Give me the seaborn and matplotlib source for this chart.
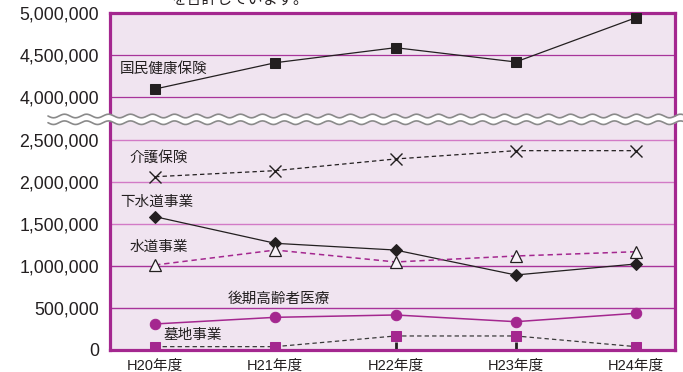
import numpy as np
import pandas as pd
import matplotlib
matplotlib.use("Agg")
import matplotlib.pyplot as plt
import seaborn as sns

years = ["H20年度", "H21年度", "H22年度", "H23年度", "H24年度"]
kokuho = [4095000, 4408000, 4587000, 4417000, 4944000]
kaigo = [2063000, 2135000, 2274000, 2373000, 2373000]
gesuido = [1587000, 1270000, 1190000, 893000, 1024000]
suido = [1012000, 1190000, 1048000, 1119000, 1170000]
kouki = [310000, 389000, 417000, 337000, 437000]
bochi = [40000, 40000, 167000, 167000, 40000]
upper_ticks = [4000000, 4500000, 5000000]
lower_ticks = [0, 500000, 1000000, 1500000, 2000000, 2500000]

sns.set_theme(style="white")
plt.rcParams['font.family'] = ['Liberation Sans', 'Noto Sans CJK JP', 'DejaVu Sans']

W, H = 683, 372
fig = plt.figure(figsize=(W / 100, H / 100), dpi=100)

px_l, px_r = 110, 675
top_px, seam_px, bot_px = 13, 119.5, 350
ax_u = fig.add_axes([px_l / W, (H - seam_px) / H, (px_r - px_l) / W, (seam_px - top_px) / H])
ax_l = fig.add_axes([px_l / W, (H - bot_px) / H, (px_r - px_l) / W, (bot_px - seam_px) / H])

bg = "#f0e4f0"
frame = "#a4278f"
grid_dark = "#a8349a"
grid_light = "#d27ac6"
ink = "#231f20"

for ax in (ax_u, ax_l):
    ax.set_facecolor(bg)
    ax.set_xlim(-0.375, 4.325)

ax_u.set_ylim(3732000, 5000000)
ax_l.set_ylim(0, 2744000)

xi = list(range(len(years)))

# upper series
sns.lineplot(x=xi, y=kokuho, ax=ax_u, color=ink, lw=0.9, marker="s",
             markersize=7.5, markeredgecolor=ink, zorder=4)

# lower series
sns.lineplot(x=xi, y=kaigo, ax=ax_l, color=ink, lw=0.9, linestyle=(0, (3.5, 2.5)),
             marker="x", markersize=8, markeredgewidth=1.0, markeredgecolor=ink, zorder=4)
sns.lineplot(x=xi, y=gesuido, ax=ax_l, color=ink, lw=0.9, marker="D",
             markersize=6.5, markeredgecolor=ink, zorder=4)
sns.lineplot(x=xi, y=suido, ax=ax_l, color="#a4278f", lw=1.1, linestyle=(0, (3.5, 2.5)),
             marker="^", markersize=9, markerfacecolor="#f8f2f8",
             markeredgecolor=ink, markeredgewidth=0.9, zorder=4)
sns.lineplot(x=xi, y=kouki, ax=ax_l, color="#a4278f", lw=1.1, marker="o",
             markersize=7.5, markeredgecolor="#a4278f", zorder=4)
sns.lineplot(x=xi, y=bochi, ax=ax_l, color="#3a3a3a", lw=0.9, linestyle=(0, (3.5, 2.5)),
             marker="s", markersize=7.5, markerfacecolor="#a4278f",
             markeredgecolor="#a4278f", zorder=4)

# gridlines
for v in upper_ticks[:-1]:
    ax_u.axhline(v, color=grid_dark, lw=0.9, zorder=1)
for v in lower_ticks[1:]:
    c = grid_dark if v <= 1000000 else grid_light
    ax_l.axhline(v, color=c, lw=1.0, zorder=1)

tick_font = dict(family=['Liberation Sans', 'Noto Sans CJK JP'], size=12.8)
for ax, ticks in ((ax_u, upper_ticks), (ax_l, lower_ticks)):
    ax.set_yticks(ticks)
    ax.set_yticklabels([f"{t:,}" for t in ticks], **tick_font, color=ink)
    ax.tick_params(axis="y", left=False, length=0, pad=8)
    ax.set_ylabel("")
    ax.set_xlabel("")

ax_u.set_xticks([])
ax_l.set_xticks(xi)
ax_l.set_xticklabels(years, family=['Liberation Sans', 'Noto Sans CJK JP'], size=10.5,
                     color=ink)
ax_l.tick_params(axis="x", bottom=True, direction="in", length=6, width=2, color=ink, pad=6)

for s in ax_u.spines.values():
    s.set_color(frame); s.set_linewidth(2.3)
for s in ax_l.spines.values():
    s.set_color(frame); s.set_linewidth(2.3)
ax_u.spines["bottom"].set_visible(False)
ax_l.spines["top"].set_visible(False)

lab = dict(family=['Noto Sans CJK JP', 'DejaVu Sans'], size=10.5, color=ink,
           va="center", ha="left", zorder=5)
ax_u.text(-0.29, 4333000, "国民健康保険", **lab)
ax_l.text(-0.21, 2286000, "介護保険", **lab)
ax_l.text(-0.29, 1762000, "下水道事業", **lab)
ax_l.text(-0.21, 1226000, "水道事業", **lab)
ax_l.text(0.60, 607000, "後期高齢者医療", **lab)
ax_l.text(0.067, 179000, "墓地事業", **lab)

# top note (cut off by the top edge in the reference too)
fig.text(240 / W, 1 - 4 / H, "を合計しています。", family=['Noto Sans CJK JP', 'DejaVu Sans'],
         size=11, color=ink, ha="center", va="baseline")

# wavy break marks
ov = fig.add_axes([0, 0, 1, 1], zorder=10)
ov.set_xlim(0, W); ov.set_ylim(H, 0); ov.axis("off"); ov.patch.set_alpha(0)
wx = np.linspace(48, W, 800)
wy = 1.8 * np.sin(2 * np.pi * (wx - 48) / 22.0)
ov.fill_between(wx, 116 + wy, 122.7 + wy, color="white", lw=0)
ov.plot(wx, 116 + wy, color="#8a8a8a", lw=1.2)
ov.plot(wx, 122.7 + wy, color="#8a8a8a", lw=1.2)

fig.savefig("out.png", dpi=100)
